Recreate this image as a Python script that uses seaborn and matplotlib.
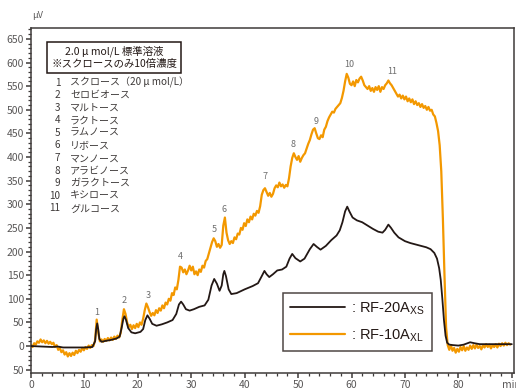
import matplotlib
matplotlib.use('Agg')
import matplotlib.pyplot as plt
import numpy as np
import pandas as pd
import seaborn as sns
from matplotlib.ticker import MultipleLocator, FixedLocator, FixedFormatter

sns.set_theme(style='white')
plt.rcParams['font.family'] = ['Noto Sans CJK JP', 'DejaVu Sans']

ORANGE = '#F39800'
BLACK = '#231815'
GRAY = '#595757'

# RF-20Axs (smooth trace), retention time [min] / signal [uV]
black_min = [0, 2, 4, 5, 6, 8, 10, 11.5, 12.0, 12.2, 12.4, 12.6, 12.8, 13.2, 14, 15, 16, 16.6,
             17.0, 17.3, 17.5, 17.8, 18.2, 18.8, 19.5, 20.5, 21.0, 21.4, 21.8, 22.2, 22.7, 23.5,
             24.5, 25.5, 26.5, 27.2, 27.7, 28.1, 28.5, 29.0, 29.7, 30.5, 31.5, 32.5, 33.2, 33.8,
             34.3, 34.8, 35.3, 35.7, 36.0, 36.2, 36.5, 37.0, 37.5, 38.5, 40, 41.5, 42.5, 43.2,
             43.7, 44.1, 44.6, 45.3, 46.1, 47.0, 47.8, 48.4, 48.9, 49.5, 50.4, 51.2, 52.2, 52.9,
             53.5, 54.2, 55.2, 56.2, 57.2, 57.8, 58.3, 58.8, 59.2, 59.6, 60.2, 61.0, 62.0, 63.0,
             64.0, 65.0, 65.8, 66.3, 66.9, 67.4, 68.0, 68.8, 70.0, 71.0, 72.0, 73.0, 74.0, 74.8,
             75.5, 76.0, 76.4, 76.7, 77.0, 77.3, 77.6, 77.9, 78.3, 79, 80, 81, 82.2, 83, 84, 86,
             88, 90]
black_uv = [0, -1, -2, -1, -3, -3, -3, -2, 10, 35, 48, 35, 15, 9, 11, 13, 16, 20,
            40, 58, 63, 55, 38, 29, 27, 30, 36, 55, 65, 58, 47, 43,
            46, 50, 55, 68, 88, 94, 88, 78, 75, 78, 83, 86, 98, 128,
            142, 132, 117, 128, 152, 159, 148, 120, 110, 112, 120, 127, 133, 148,
            159, 152, 146, 152, 160, 162, 168, 185, 195, 186, 179, 185, 205, 216,
            210, 204, 212, 224, 234, 245, 262, 285, 295, 285, 272, 266, 262, 255,
            248, 242, 240, 246, 257, 250, 240, 230, 222, 218, 215, 212, 209, 205,
            197, 185, 165, 140, 100, 55, 22, 7, 3, 2, 1, 3, 8, 6, 4, 4,
            4, 4]

# RF-10Axl (noisy trace), sampled every 0.3 min from 0 to 89.7 min
orange_uv = [
    2, -2, 6, 3, 10, 7, 14, 8, 12, 6,
    11, 5, 9, 4, 7, -2, 2, -8, -4, -13,
    -9, -18, -13, -22, -15, -21, -14, -19, -10, -15,
    -8, -12, -4, -9, -2, -6, 1, -4, 2, 0,
    12, 56, 28, 10, 14, 9, 15, 11, 17, 12,
    18, 13, 20, 15, 22, 18, 28, 55, 78, 68,
    50, 40, 45, 36, 44, 38, 47, 40, 50, 45,
    58, 76, 90, 82, 72, 64, 70, 65, 76, 70,
    80, 75, 86, 80, 92, 88, 100, 96, 112, 108,
    124, 120, 140, 168, 166, 156, 162, 152, 160, 170,
    160, 168, 152, 158, 150, 162, 157, 170, 166, 180,
    184, 196, 208, 220, 228, 222, 210, 216, 208, 214,
    255, 272, 240, 224, 216, 222, 218, 230, 226, 238,
    236, 250, 246, 260, 254, 268, 262, 274, 268, 280,
    276, 286, 282, 296, 320, 330, 334, 326, 318, 324,
    316, 322, 334, 340, 336, 346, 338, 342, 335, 341,
    338, 355, 380, 398, 408, 400, 394, 402, 390, 398,
    404, 408, 418, 428, 436, 448, 458, 461, 450, 440,
    438, 446, 442, 458, 464, 476, 484, 490, 496, 494,
    502, 506, 510, 514, 525, 540, 560, 576, 568, 555,
    552, 560, 550, 563, 558, 566, 570, 562, 552, 548,
    544, 550, 540, 546, 538, 548, 542, 550, 538, 548,
    544, 552, 556, 562, 556, 552, 546, 540, 534, 528,
    532, 524, 530, 522, 528, 518, 524, 516, 522, 512,
    518, 510, 514, 506, 512, 504, 508, 500, 506, 498,
    500, 490, 486, 472, 455, 425, 370, 270, 150, 40,
    2, -8, 2, -10, -4, -14, -6, -12, -2, -9,
    0, -10, -3, -8, 1, -6, 2, -5, 3, -4,
    0, -7, 2, -3, 4, -2, 3, -5, 2, -2,
    4, -3, 5, 0, 6, 1, 7, 2, 6, 3,
]
orange_min = np.round(np.arange(len(orange_uv)) * 0.3, 1)

peak_ids = ['1', '2', '3', '4', '5', '6', '7', '8', '9', '10', '11']
peak_min = [12.4, 17.5, 21.9, 28.0, 34.3, 36.2, 43.8, 49.1, 53.3, 59.6, 67.6]
peak_label_uv = [70, 97, 108, 189, 246, 288, 358, 426, 475, 596, 581]

sugars = ['スクロース（20 μ mol/L）', 'セロビオース', 'マルトース', 'ラクトース', 'ラムノース',
          'リボース', 'マンノース', 'アラビノース', 'ガラクトース', 'キシロース', 'グルコース']

df_black = pd.DataFrame({'min': black_min, 'uv': black_uv})
df_orange = pd.DataFrame({'min': orange_min, 'uv': orange_uv})

fig = plt.figure(figsize=(5.16, 3.92), dpi=100)
ax = fig.add_axes([0.060, 0.0485, 0.936, 0.880])

sns.lineplot(data=df_orange, x='min', y='uv', ax=ax, color=ORANGE, lw=1.6,
             label=': RF-10A$_\\mathregular{XL}$', zorder=2)
sns.lineplot(data=df_black, x='min', y='uv', ax=ax, color=BLACK, lw=1.3,
             label=': RF-20A$_\\mathregular{XS}$', zorder=3)

ax.set_xlim(0, 90.4)
ax.set_ylim(-57, 673)
ax.set_xlabel('')
ax.set_ylabel('')

xt = [0, 10, 20, 30, 40, 50, 60, 70, 80, 90]
ax.xaxis.set_major_locator(FixedLocator(xt))
ax.xaxis.set_major_formatter(FixedFormatter([str(v) for v in xt[:-1]] + ['min']))
ax.xaxis.set_minor_locator(MultipleLocator(2))
yt = list(range(-50, 651, 50))
ax.yaxis.set_major_locator(FixedLocator(yt))
ax.yaxis.set_major_formatter(FixedFormatter([str(abs(v)) for v in yt]))
ax.yaxis.set_minor_locator(MultipleLocator(10))

ax.tick_params(which='major', direction='out', length=3.5, width=1.1, color='#3E3A39',
               labelsize=7.5, labelcolor=GRAY, pad=1.5, left=True, bottom=True)
ax.tick_params(which='minor', direction='out', length=2, width=0.9, color='#3E3A39',
               left=True, bottom=True)
for s in ax.spines.values():
    s.set_color('#3E3A39')
    s.set_linewidth(1.1)

ax.text(0.3, 700, 'μV', fontsize=6.5, color=GRAY, ha='left', va='center', clip_on=False)

for pid, x, y in zip(peak_ids, peak_min, peak_label_uv):
    ax.text(x, y, pid, fontsize=6.5, color='#6E6E6E', ha='center', va='center')

ax.text(0.172, 0.915, '2.0 μ mol/L 標準溶液\n※スクロースのみ10倍濃度', transform=ax.transAxes,
        fontsize=7.5, color='#231815', ha='center', va='center', linespacing=1.15,
        bbox=dict(boxstyle='square,pad=0.38', fc='white', ec='#231815', lw=1.1))

row0 = 0.842
for i, name in enumerate(sugars):
    y = row0 - i * 0.0365
    ax.text(0.061, y, peak_ids[i], transform=ax.transAxes, fontsize=7.2, color='#3E3A39',
            ha='right', va='center')
    ax.text(0.081, y, name, transform=ax.transAxes, fontsize=7.2, color='#3E3A39',
            ha='left', va='center')

handles, labels = ax.get_legend_handles_labels()
leg = ax.legend(handles[::-1], labels[::-1], loc='lower left', bbox_to_anchor=(0.521, 0.064),
                frameon=True, fancybox=False, edgecolor='#231815',
                handlelength=3.8, handletextpad=0.4, labelspacing=0.7, borderpad=0.5,
                borderaxespad=0, prop={'family': ['Liberation Sans'], 'size': 10.5})
leg.get_frame().set_linewidth(1.1)
for t in leg.get_texts():
    t.set_color('#231815')

fig.savefig('out.png', dpi=100)
